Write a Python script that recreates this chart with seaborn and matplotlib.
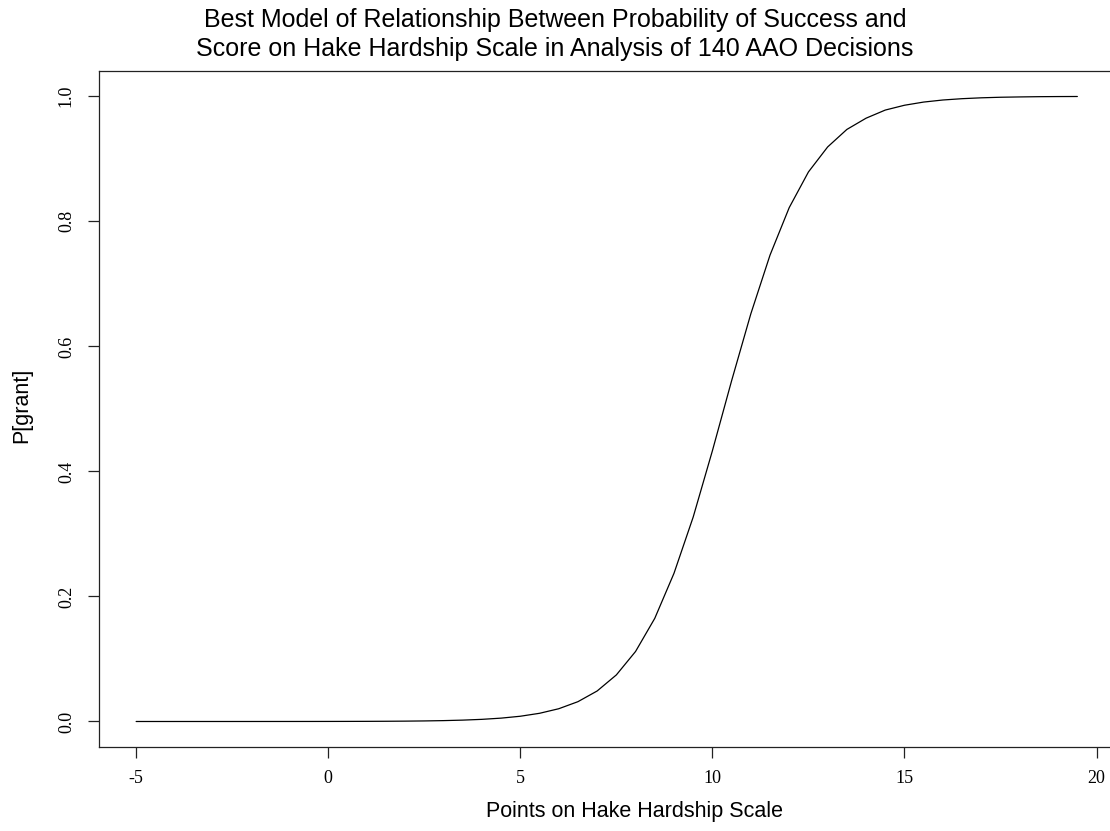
import matplotlib
matplotlib.use("Agg")
import matplotlib.pyplot as plt
import seaborn as sns
import pandas as pd

# points on the hardship scale and fitted probability of a grant
hardship_points = [-5, -4.5, -4, -3.5, -3, -2.5, -2, -1.5, -1, -0.5,
                   0, 0.5, 1, 1.5, 2, 2.5, 3, 3.5, 4, 4.5,
                   5, 5.5, 6, 6.5, 7, 7.5, 8, 8.5, 9, 9.5,
                   10, 10.5, 11, 11.5, 12, 12.5, 13, 13.5, 14, 14.5,
                   15, 15.5, 16, 16.5, 17, 17.5, 18, 18.5, 19, 19.5]
p_grant = [0.000001, 0.0000016, 0.0000026, 0.000004, 0.0000063, 0.0000099, 0.0000156, 0.0000244, 0.0000383, 0.00006,
           0.000094, 0.000148, 0.000232, 0.000364, 0.00057, 0.00089, 0.0014, 0.00219, 0.00343, 0.00538,
           0.0084, 0.0131, 0.0204, 0.0317, 0.0488, 0.0745, 0.112, 0.165, 0.237, 0.327,
           0.433, 0.545, 0.652, 0.746, 0.822, 0.879, 0.919, 0.947, 0.965, 0.978,
           0.9857, 0.9908, 0.9941, 0.9962, 0.9976, 0.9985, 0.999, 0.9994, 0.9996, 0.9997]

x_ticks = [-5, 0, 5, 10, 15, 20]
y_ticks = [0.0, 0.2, 0.4, 0.6, 0.8, 1.0]

df = pd.DataFrame({"points": hardship_points, "p": p_grant})

sns.set_style("ticks")
plt.rcParams["text.color"] = "black"
plt.rcParams["xtick.labelcolor"] = "black"
plt.rcParams["ytick.labelcolor"] = "black"

W, H = 1110, 831
fig = plt.figure(figsize=(W / 100, H / 100), dpi=100)
# plot region of the original runs a little past the right edge of the image
ax = fig.add_axes([98.5 / W, (H - 746.5) / H, (1115 - 98.5) / W, (746.5 - 71.3) / H])

sns.lineplot(data=df, x="points", y="p", color="black", linewidth=0.9, ax=ax)

ax.set_xlim(-5.98, 20.48)
ax.set_ylim(-0.04, 1.04)
ax.set_xticks(x_ticks)
ax.set_xticklabels([str(t) for t in x_ticks], family="Liberation Serif", fontsize=13)
ax.set_yticks(y_ticks)
ax.set_yticklabels([f"{t:.1f}" for t in y_ticks], family="Liberation Serif", fontsize=13,
                   rotation=90, va="center")
ax.tick_params(direction="out", length=8, width=0.9, color="#222222", pad=9)
for s in ax.spines.values():
    s.set_linewidth(0.9)
    s.set_color("#222222")
ax.set_xlabel("")
ax.set_ylabel("")

fig.text(555 / W, 1 - 20 / H, "Best Model of Relationship Between Probability of Success and",
         ha="center", va="center", family="Liberation Sans", fontsize=18)
fig.text(555 / W, 1 - 49 / H, "Score on Hake Hardship Scale in Analysis of 140 AAO Decisions",
         ha="center", va="center", family="Liberation Sans", fontsize=18)
fig.text(634 / W, 1 - 812 / H, "Points on Hake Hardship Scale",
         ha="center", va="center", family="Liberation Sans", fontsize=15.5)
fig.text(22 / W, 1 - 405 / H, "P[grant]", rotation=90,
         ha="center", va="center", family="Liberation Sans", fontsize=15.5)

fig.savefig("out.png", dpi=100)
